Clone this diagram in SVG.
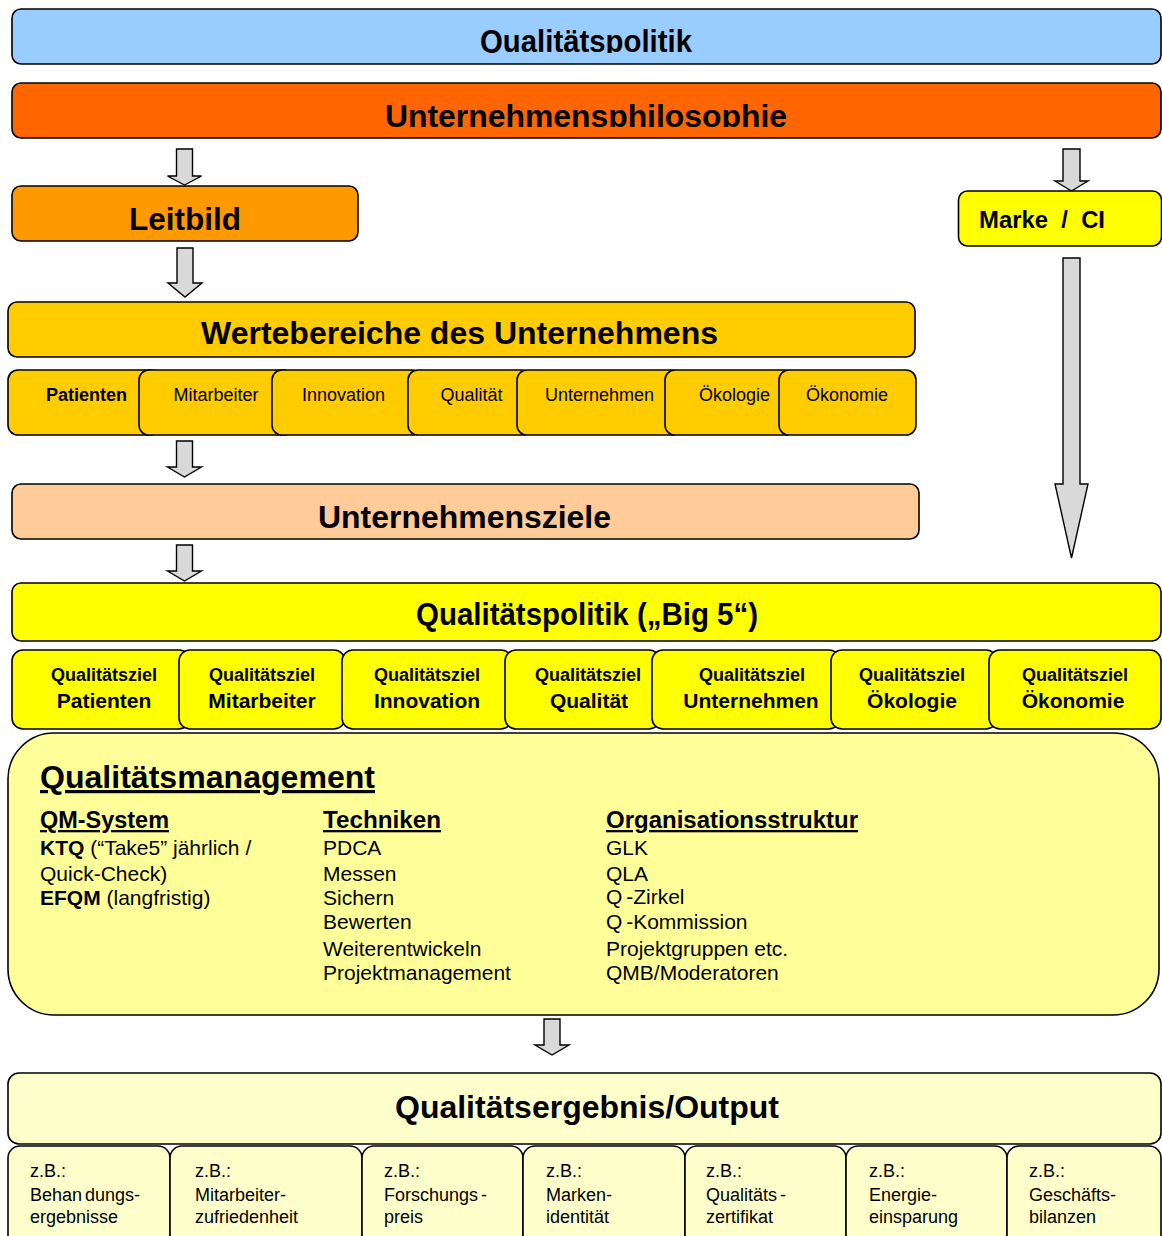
<svg xmlns="http://www.w3.org/2000/svg" width="1162" height="1236" viewBox="0 0 1162 1236">
<style>
  .box { stroke: #000; stroke-width: 1.6; }
  .arr { fill: #D9D9D9; stroke: #000; stroke-width: 1.4; stroke-linejoin: miter; }
  text { font-family: "Liberation Sans", Arial, sans-serif; fill: #000; }
  .h { font-weight: bold; font-size: 31px; text-anchor: middle; }
  .v { font-size: 18px; text-anchor: middle; }
  .q1 { font-size: 18px; font-weight: bold; text-anchor: middle; }
  .q2 { font-size: 21px; font-weight: bold; text-anchor: middle; }
  .qmh { font-size: 23px; font-weight: bold; text-decoration: underline; }
  .b { font-size: 21px; }
  .s { font-size: 18px; }
  .tight { word-spacing: -2px; }
</style>
<defs>
  <clipPath id="c1"><rect x="0" y="0" width="1162" height="53"/></clipPath>
  <clipPath id="c2"><rect x="0" y="70" width="1162" height="57"/></clipPath>
</defs>
<rect width="1162" height="1236" fill="#fff"/>

<g id="connectors">
  <path class="arr" d="M176.5,149 H192.5 V176 H201.5 L184.5,185 L167.5,176 H176.5 Z"/>
  <path class="arr" d="M177,248 H193 V283 H202 L185,297 L168,283 H177 Z"/>
  <path class="arr" d="M176.5,441 H192.5 V467 H201.5 L184.5,477 L167.5,467 H176.5 Z"/>
  <path class="arr" d="M176.5,545 H192.5 V571 H201.5 L184.5,581 L167.5,571 H176.5 Z"/>
  <path class="arr" d="M544,1019 H560 V1045 H569 L552,1055 L535,1045 H544 Z"/>
  <path class="arr" d="M1063,149 H1080 V181 H1088 L1071.5,191 L1055,181 H1063 Z"/>
  <path class="arr" d="M1063,258 H1080 V484 H1088 L1071.5,558 L1055,484 H1063 Z"/>
</g>

<g id="qualitaetspolitik">
  <rect class="box" x="12" y="9" width="1149" height="55" rx="9" fill="#99CCFF"/>
  <text class="h" x="586" y="52" textLength="212" lengthAdjust="spacingAndGlyphs" clip-path="url(#c1)">Qualitätspolitik</text>
</g>
<g id="unternehmensphilosophie">
  <rect class="box" x="12" y="83" width="1149" height="55" rx="9" fill="#FF6600"/>
  <text class="h" x="586" y="127" textLength="402" lengthAdjust="spacingAndGlyphs" clip-path="url(#c2)">Unternehmensphilosophie</text>
</g>
<g id="leitbild">
  <rect class="box" x="12" y="186" width="346" height="55" rx="9" fill="#FF9900"/>
  <text class="h" x="185" y="230" textLength="112" lengthAdjust="spacingAndGlyphs">Leitbild</text>
</g>
<g id="marke">
  <rect class="box" x="958.5" y="191" width="203" height="55" rx="9" fill="#FFFF00"/>
  <text x="979" y="228" font-size="23" font-weight="bold" xml:space="preserve" textLength="126" lengthAdjust="spacingAndGlyphs">Marke  /  CI</text>
</g>
<g id="wertebereiche">
  <rect class="box" x="8" y="302" width="907" height="55" rx="9" fill="#FFCC00"/>
  <text class="h" x="459.5" y="344" textLength="517" lengthAdjust="spacingAndGlyphs">Wertebereiche des Unternehmens</text>
</g>
<g id="werte">
  <rect class="box" x="8" y="370" width="152" height="65" rx="10" fill="#FFCC00"/>
  <text class="v" x="86.5" y="401" font-weight="bold">Patienten</text>
  <rect class="box" x="139" y="370" width="154" height="65" rx="10" fill="#FFCC00"/>
  <text class="v" x="216" y="401">Mitarbeiter</text>
  <rect class="box" x="272" y="370" width="150" height="65" rx="10" fill="#FFCC00"/>
  <text class="v" x="343.5" y="401">Innovation</text>
  <rect class="box" x="408" y="370" width="124" height="65" rx="10" fill="#FFCC00"/>
  <text class="v" x="471.5" y="401">Qualität</text>
  <rect class="box" x="517" y="370" width="165" height="65" rx="10" fill="#FFCC00"/>
  <text class="v" x="599.5" y="401">Unternehmen</text>
  <rect class="box" x="665" y="370" width="130" height="65" rx="10" fill="#FFCC00"/>
  <text class="v" x="734.5" y="401">Ökologie</text>
  <rect class="box" x="779" y="370" width="137" height="65" rx="10" fill="#FFCC00"/>
  <text class="v" x="847" y="401">Ökonomie</text>
</g>
<g id="unternehmensziele">
  <rect class="box" x="12" y="484" width="907" height="55" rx="9" fill="#FFCC99"/>
  <text class="h" x="464.5" y="528" textLength="293" lengthAdjust="spacingAndGlyphs">Unternehmensziele</text>
</g>
<g id="big5">
  <rect class="box" x="12" y="583" width="1149" height="58" rx="9" fill="#FFFF00"/>
  <text class="h" x="587" y="625" textLength="342" lengthAdjust="spacingAndGlyphs">Qualitätspolitik („Big 5“)</text>
</g>
<g id="qualitaetsziele">
  <rect class="box" x="12" y="650" width="178" height="79" rx="11" fill="#FFFF00"/>
  <text class="q1" x="104" y="681">Qualitätsziel</text><text class="q2" x="104" y="708">Patienten</text>
  <rect class="box" x="179" y="650" width="166" height="79" rx="11" fill="#FFFF00"/>
  <text class="q1" x="262" y="681">Qualitätsziel</text><text class="q2" x="262" y="708">Mitarbeiter</text>
  <rect class="box" x="342" y="650" width="170" height="79" rx="11" fill="#FFFF00"/>
  <text class="q1" x="427" y="681">Qualitätsziel</text><text class="q2" x="427" y="708">Innovation</text>
  <rect class="box" x="505" y="650" width="155" height="79" rx="11" fill="#FFFF00"/>
  <text class="q1" x="588" y="681">Qualitätsziel</text><text class="q2" x="589" y="708">Qualität</text>
  <rect class="box" x="652" y="650" width="188" height="79" rx="11" fill="#FFFF00"/>
  <text class="q1" x="752" y="681">Qualitätsziel</text><text class="q2" x="751" y="708">Unternehmen</text>
  <rect class="box" x="831" y="650" width="166" height="79" rx="11" fill="#FFFF00"/>
  <text class="q1" x="912" y="681">Qualitätsziel</text><text class="q2" x="912" y="708">Ökologie</text>
  <rect class="box" x="989" y="650" width="172" height="79" rx="11" fill="#FFFF00"/>
  <text class="q1" x="1075" y="681">Qualitätsziel</text><text class="q2" x="1073" y="708">Ökonomie</text>
</g>
<g id="qualitaetsmanagement">
  <rect class="box" x="8" y="733" width="1151" height="282" rx="46" fill="#FFFF99"/>
  <text x="40" y="788" font-size="32" font-weight="bold" text-decoration="underline" textLength="335" lengthAdjust="spacingAndGlyphs">Qualitätsmanagement</text>
  <text class="qmh" x="40" y="828" textLength="129" lengthAdjust="spacingAndGlyphs">QM-System</text>
  <text class="b" x="40" y="855"><tspan font-weight="bold">KTQ</tspan> (“Take5” jährlich /</text>
  <text class="b" x="40" y="881">Quick-Check)</text>
  <text class="b" x="40" y="905"><tspan font-weight="bold">EFQM</tspan> (langfristig)</text>
  <text class="qmh" x="323" y="828" textLength="118" lengthAdjust="spacingAndGlyphs">Techniken</text>
  <text class="b" x="323" y="855">PDCA</text>
  <text class="b" x="323" y="881">Messen</text>
  <text class="b" x="323" y="905">Sichern</text>
  <text class="b" x="323" y="929">Bewerten</text>
  <text class="b" x="323" y="956">Weiterentwickeln</text>
  <text class="b" x="323" y="980">Projektmanagement</text>
  <text class="qmh" x="606" y="828" textLength="252" lengthAdjust="spacingAndGlyphs">Organisationsstruktur</text>
  <text class="b" x="606" y="855">GLK</text>
  <text class="b" x="606" y="881">QLA</text>
  <text class="b tight" x="606" y="904">Q -Zirkel</text>
  <text class="b tight" x="606" y="929">Q -Kommission</text>
  <text class="b" x="606" y="956">Projektgruppen etc.</text>
  <text class="b" x="606" y="980">QMB/Moderatoren</text>
</g>
<g id="output">
  <rect class="box" x="8" y="1073" width="1153" height="71" rx="11" fill="#FFFFCC"/>
  <text class="h" x="587" y="1118" textLength="384" lengthAdjust="spacingAndGlyphs">Qualitätsergebnis/Output</text>
</g>
<g id="ergebnisse">
  <rect class="box" x="8" y="1146" width="162" height="110" rx="12" fill="#FFFFCC"/>
  <text class="s" x="30" y="1177">z.B.:</text><text class="s tight" x="30" y="1201">Behan dungs-</text><text class="s" x="30" y="1223">ergebnisse</text>
  <rect class="box" x="170" y="1146" width="192" height="110" rx="12" fill="#FFFFCC"/>
  <text class="s" x="195" y="1177">z.B.:</text><text class="s" x="195" y="1201">Mitarbeiter-</text><text class="s" x="195" y="1223">zufriedenheit</text>
  <rect class="box" x="362" y="1146" width="161" height="110" rx="12" fill="#FFFFCC"/>
  <text class="s" x="384" y="1177">z.B.:</text><text class="s tight" x="384" y="1201">Forschungs -</text><text class="s" x="384" y="1223">preis</text>
  <rect class="box" x="523" y="1146" width="162" height="110" rx="12" fill="#FFFFCC"/>
  <text class="s" x="546" y="1177">z.B.:</text><text class="s" x="546" y="1201">Marken-</text><text class="s" x="546" y="1223">identität</text>
  <rect class="box" x="685" y="1146" width="161" height="110" rx="12" fill="#FFFFCC"/>
  <text class="s" x="706" y="1177">z.B.:</text><text class="s tight" x="706" y="1201">Qualitäts -</text><text class="s" x="706" y="1223">zertifikat</text>
  <rect class="box" x="846" y="1146" width="161" height="110" rx="12" fill="#FFFFCC"/>
  <text class="s" x="869" y="1177">z.B.:</text><text class="s" x="869" y="1201">Energie-</text><text class="s" x="869" y="1223">einsparung</text>
  <rect class="box" x="1007" y="1146" width="154" height="110" rx="12" fill="#FFFFCC"/>
  <text class="s" x="1029" y="1177">z.B.:</text><text class="s" x="1029" y="1201">Geschäfts-</text><text class="s" x="1029" y="1223">bilanzen</text>
</g>
</svg>
